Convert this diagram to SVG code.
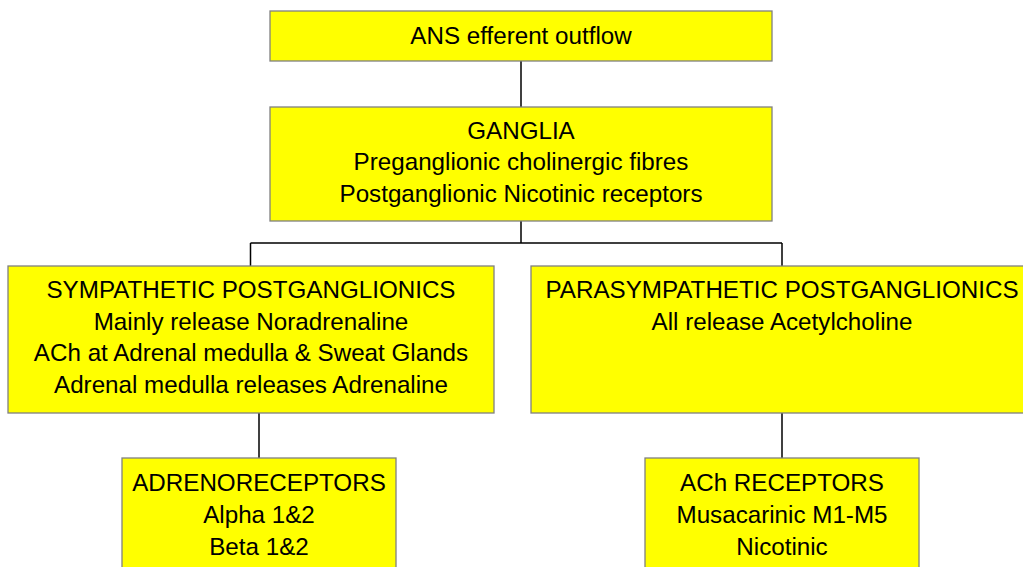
<svg xmlns="http://www.w3.org/2000/svg" width="1023" height="567" viewBox="0 0 1023 567">
<style>
.box{fill:#ffff00;stroke:#808080;stroke-width:1.3}
.t{font-family:"Liberation Sans",Arial,sans-serif;font-size:24.2px;fill:#000;text-anchor:middle}
.c{fill:none;stroke:#000;stroke-width:1.5}
</style>
<rect width="1023" height="567" fill="#fff"/>
<g id="connectors">
<path class="c" d="M521,61 V107"/>
<path class="c" d="M521,221 V243 M250.5,243 H782 M250.5,243 V266 M782,243 V266"/>
<path class="c" d="M259,413 V458"/>
<path class="c" d="M782,413 V458"/>
</g>
<g id="ans">
<rect class="box" x="270" y="11" width="502" height="50"/>
<text class="t" x="521" y="43.5">ANS efferent outflow</text>
</g>
<g id="ganglia">
<rect class="box" x="270" y="107" width="502" height="114"/>
<text class="t" x="521" y="138.5">GANGLIA</text>
<text class="t" x="521" y="170">Preganglionic cholinergic fibres</text>
<text class="t" x="521" y="201.5">Postganglionic Nicotinic receptors</text>
</g>
<g id="sympathetic">
<rect class="box" x="8" y="266" width="486" height="147"/>
<text class="t" x="251" y="298">SYMPATHETIC POSTGANGLIONICS</text>
<text class="t" x="251" y="329.5">Mainly release Noradrenaline</text>
<text class="t" x="251" y="361">ACh at Adrenal medulla &amp; Sweat Glands</text>
<text class="t" x="251" y="393">Adrenal medulla releases Adrenaline</text>
</g>
<g id="parasympathetic">
<rect class="box" x="531" y="266" width="502" height="147"/>
<text class="t" x="782" y="298">PARASYMPATHETIC POSTGANGLIONICS</text>
<text class="t" x="782" y="330">All release Acetylcholine</text>
</g>
<g id="adrenoreceptors">
<rect class="box" x="122" y="458" width="274" height="130"/>
<text class="t" x="259" y="490.5">ADRENORECEPTORS</text>
<text class="t" x="259" y="523">Alpha 1&amp;2</text>
<text class="t" x="259" y="555">Beta 1&amp;2</text>
</g>
<g id="achreceptors">
<rect class="box" x="645" y="458" width="274" height="130"/>
<text class="t" x="782" y="490.5">ACh RECEPTORS</text>
<text class="t" x="782" y="523">Musacarinic M1-M5</text>
<text class="t" x="782" y="555">Nicotinic</text>
</g>
</svg>
